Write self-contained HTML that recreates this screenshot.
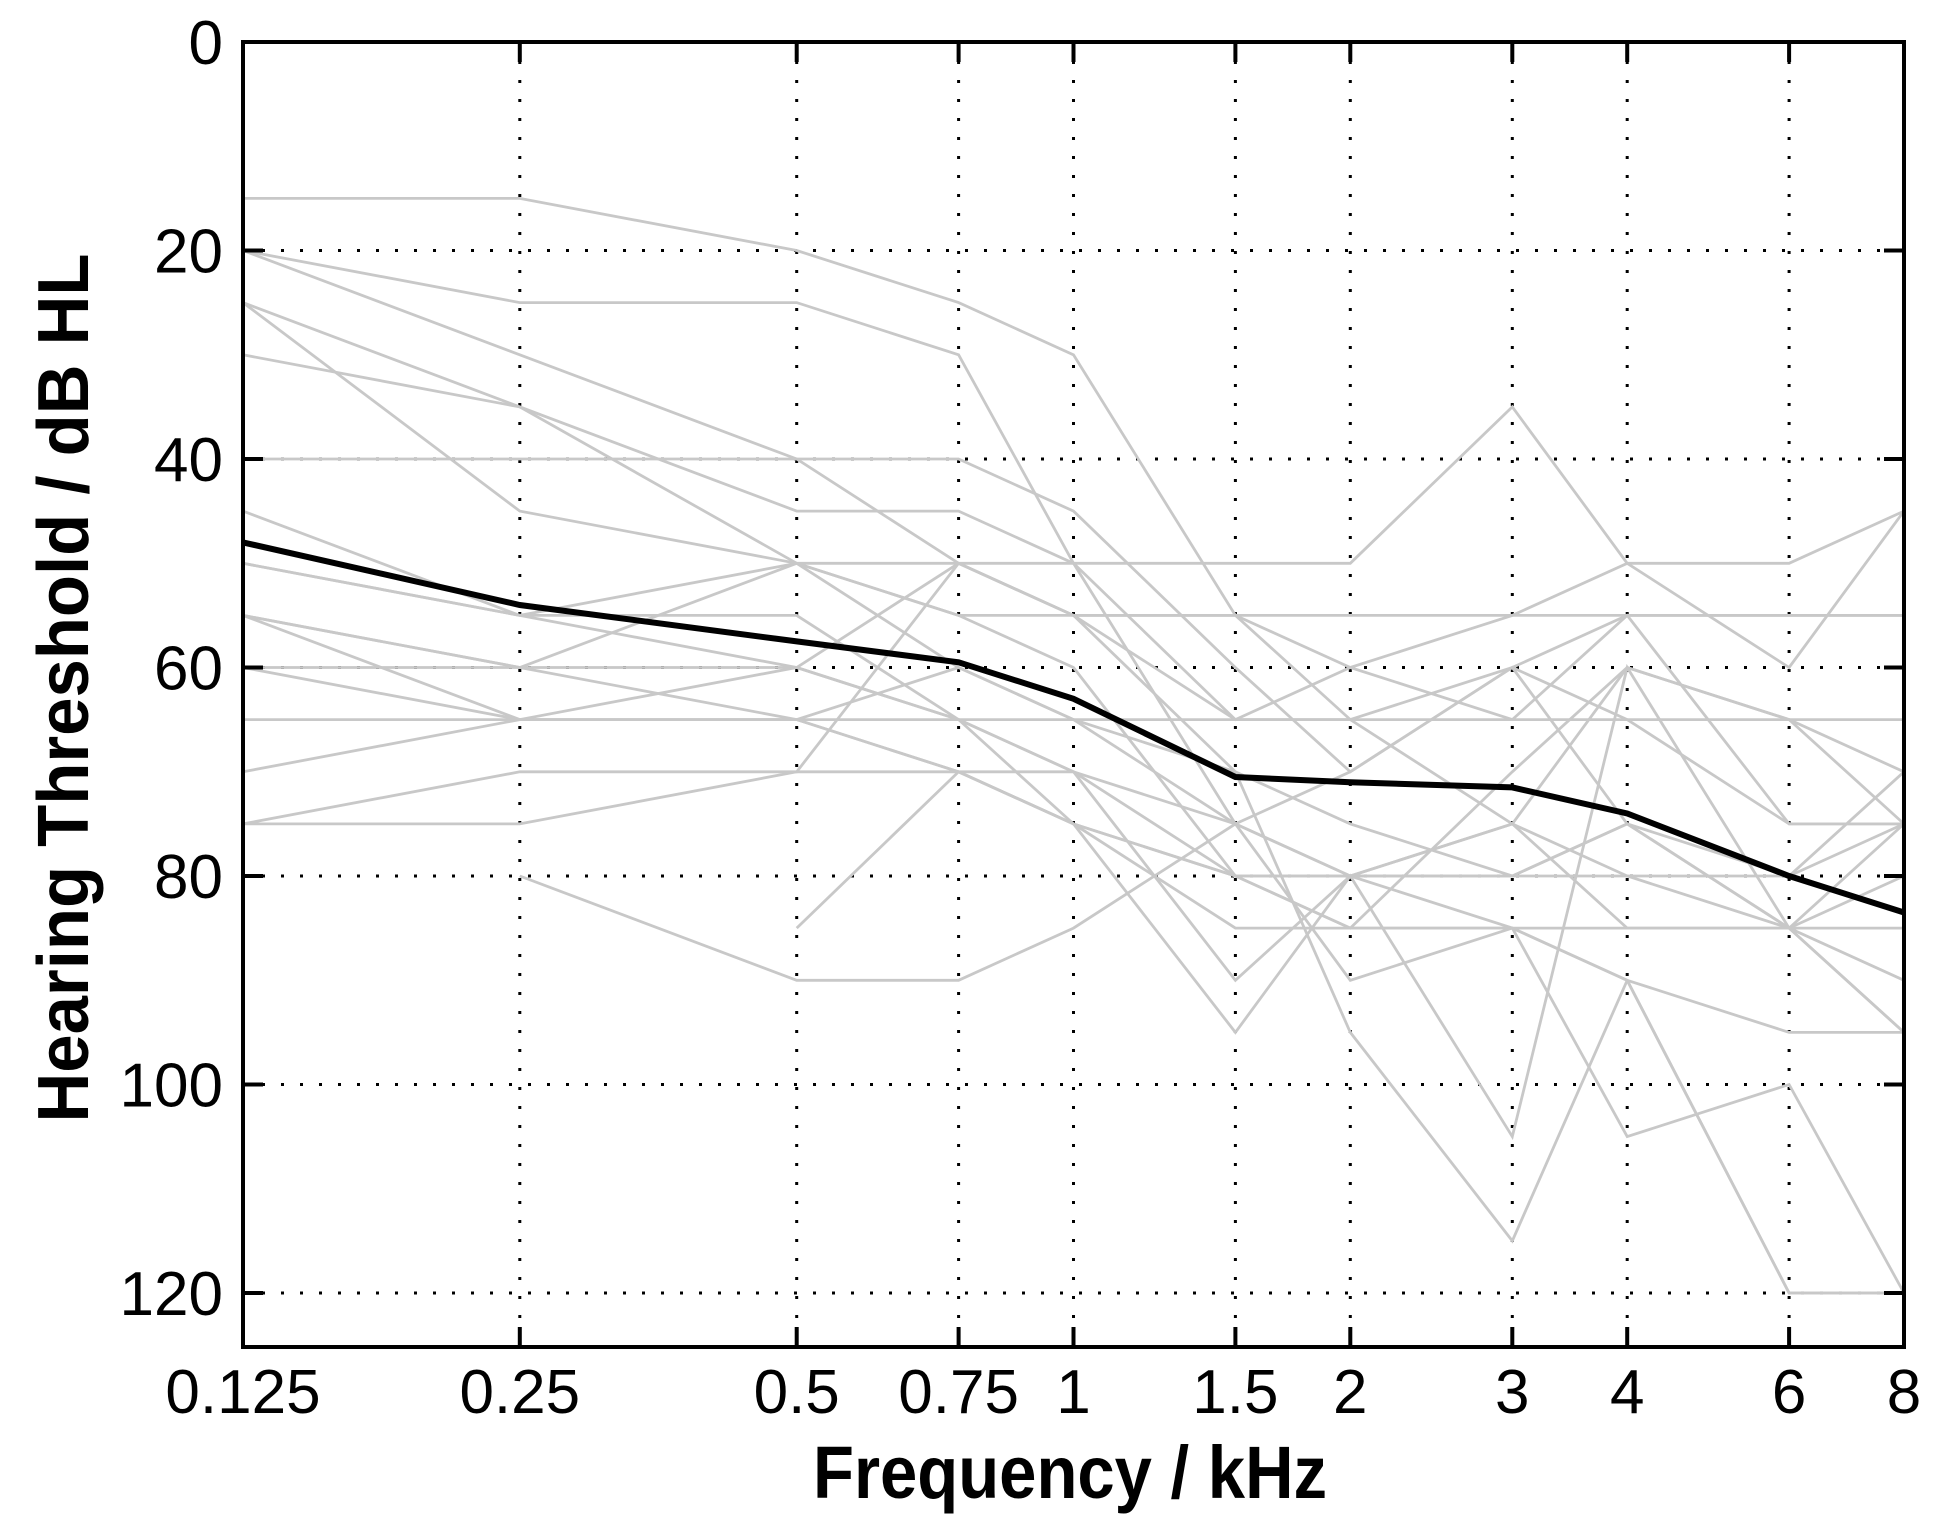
<!DOCTYPE html>
<html><head><meta charset="utf-8"><style>
html,body{margin:0;padding:0;background:#fff}
svg{display:block}
text{font-family:"Liberation Sans",Arial,sans-serif}
</style></head><body>
<svg id="s" width="1945" height="1539" xmlns="http://www.w3.org/2000/svg"></svg>
<script>
const s=document.getElementById('s');
const L=243,R=1904,T=42,B=1347;
const X=f=>L+(Math.log2(f/0.125))*(R-L)/6;
const Y=d=>T+d*(1293-42)/120;
let h='';
const fr=[0.125,0.25,0.5,0.75,1,1.5,2,3,4,6,8];
const lab=['0.125','0.25','0.5','0.75','1','1.5','2','3','4','6','8'];
for(let i=1;i<fr.length-1;i++){const x=X(fr[i]).toFixed(1);h+=`<line x1="${x}" y1="${T}" x2="${x}" y2="${B}" stroke="#000" stroke-width="3" stroke-dasharray="3,16"/>`;}
for(let d=20;d<=120;d+=20){const y=Y(d).toFixed(1);h+=`<line x1="${L}" y1="${y}" x2="${R}" y2="${y}" stroke="#000" stroke-width="3" stroke-dasharray="3,16"/>`;}
const G=[
[15,15,20,25,30,55,65,60,65,75,75],
[20,25,25,30,50,75,80,75,85,85,95],
[20,30,40,50,55,55,60,55,50,60,45],
[25,35,50,60,65,75,90,85,90,120,120],
[25,45,50,55,60,80,85,70,60,65,75],
[30,35,45,45,50,50,50,35,50,50,45],
[40,40,40,40,45,60,70,60,75,85,95],
[45,55,60,50,50,65,60,65,55,55,55],
[50,55,50,55,55,55,55,55,55,55,55],
[55,60,50,50,55,65,65,75,80,85,90],
[55,65,60,65,70,80,80,85,105,100,120],
[60,65,65,60,65,70,75,80,80,80,75],
[65,65,65,65,65,65,65,65,65,65,65],
[70,65,65,70,75,80,85,85,85,85,80],
[75,75,70,70,75,85,85,85,90,120,120],
[75,70,70,50,55,70,95,115,90,95,95],
[55,60,60,65,70,75,80,80,75,80,70],
[null,80,90,90,85,75,70,60,55,75,75],
[null,null,85,70,70,90,80,75,60,65,70],
[60,60,65,70,75,95,80,105,60,85,85],
[50,55,55,65,75,80,80,80,75,85,75]];
for(const g of G){let p=[];g.forEach((d,i)=>{if(d!=null)p.push(X(fr[i]).toFixed(1)+','+Y(d).toFixed(1))});
h+=`<polyline points="${p.join(' ')}" fill="none" stroke="#c8c8c8" stroke-width="2.8"/>`;}
const M=[48,54,57.5,59.5,63,70.5,71,71.5,74,80,83.5];
h+=`<polyline points="${M.map((d,i)=>X(fr[i]).toFixed(1)+','+Y(d).toFixed(1)).join(' ')}" fill="none" stroke="#000" stroke-width="6"/>`;
h+=`<rect x="${L}" y="${T}" width="${R-L}" height="${B-T}" fill="none" stroke="#000" stroke-width="4"/>`;
fr.forEach((f,i)=>{const x=X(f).toFixed(1);h+=`<line x1="${x}" y1="${B}" x2="${x}" y2="${B-20}" stroke="#000" stroke-width="4"/><line x1="${x}" y1="${T}" x2="${x}" y2="${T+20}" stroke="#000" stroke-width="4"/>`;
h+=`<text x="${x}" y="1413" font-size="62" text-anchor="middle">${lab[i]}</text>`;});
for(let d=0;d<=120;d+=20){const y=Y(d);h+=`<line x1="${L}" y1="${y}" x2="${L+20}" y2="${y}" stroke="#000" stroke-width="4"/><line x1="${R}" y1="${y}" x2="${R-20}" y2="${y}" stroke="#000" stroke-width="4"/>`;
h+=`<text x="223" y="${(y+22).toFixed(1)}" font-size="62" text-anchor="end">${d}</text>`;}
h+=`<text x="1070" y="1498" font-size="74" font-weight="bold" text-anchor="middle" textLength="514" lengthAdjust="spacingAndGlyphs">Frequency / kHz</text>`;
h+=`<text transform="translate(88,688) rotate(-90)" font-size="72" font-weight="bold" text-anchor="middle" textLength="869" lengthAdjust="spacingAndGlyphs">Hearing Threshold / dB HL</text>`;
s.innerHTML=h;
</script>
</body></html>
